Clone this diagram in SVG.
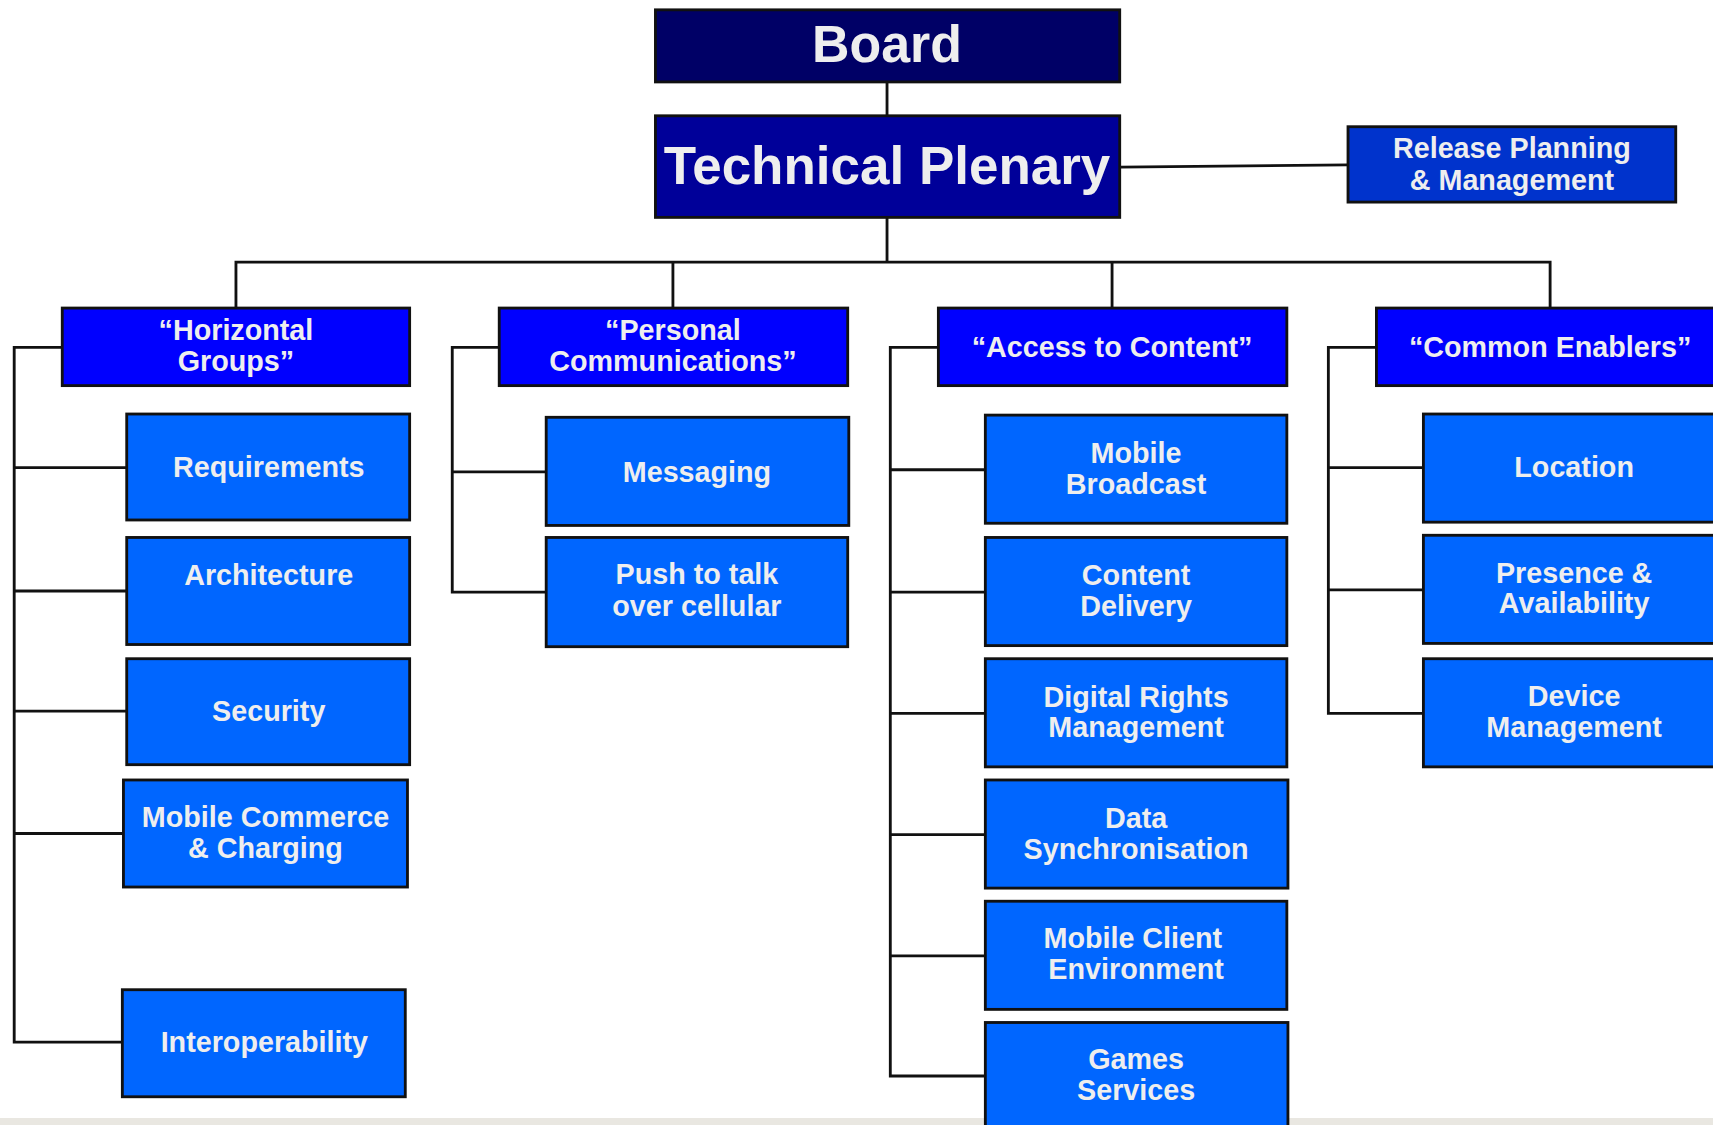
<svg xmlns="http://www.w3.org/2000/svg" width="1713" height="1125" viewBox="0 0 1713 1125">
<style>
  .box { stroke: #111; stroke-width: 2.6; }
  .board { fill: #000066; }
  .plen { fill: #000099; }
  .rel { fill: #0033cc; }
  .hdr { fill: #0000ff; }
  .kid { fill: #0066ff; }
  text { font-family: "Liberation Sans", Arial, sans-serif; font-weight: bold; fill: #eeeeee; text-anchor: middle; }
  .t26 { font-size: 26.3px; }
  .conn { fill: none; stroke: #111; stroke-width: 2.6; }
</style>
<rect x="0" y="0" width="1713" height="1125" fill="#ffffff"/>
<rect x="0" y="1118" width="1713" height="7" fill="#e9e7e1"/>
<g transform="scale(1.0924)">
  <g id="connectors" class="conn">
    <path d="M812 75 V106"/>
    <path d="M812 199 V240"/>
    <path d="M1025 153 L1234 151"/>
    <path d="M216 282 V240 H1419 V282"/>
    <path d="M616 240 V282"/>
    <path d="M1018 240 V282"/>
    <path d="M57 318 H13 V954 H113"/>
    <path d="M13 428 H116"/>
    <path d="M13 541 H116"/>
    <path d="M13 651 H116"/>
    <path d="M13 763 H113"/>
    <path d="M457 318 H414 V542 H500"/>
    <path d="M414 432 H500"/>
    <path d="M859 318 H815 V985 H902"/>
    <path d="M815 430 H902"/>
    <path d="M815 542 H902"/>
    <path d="M815 653 H902"/>
    <path d="M815 764 H902"/>
    <path d="M815 875 H902"/>
    <path d="M1260 318 H1216 V653 H1303"/>
    <path d="M1216 428 H1303"/>
    <path d="M1216 540 H1303"/>
  </g>

  <g id="board"><rect class="box board" x="600" y="9" width="425" height="66"/><text x="812" y="57" style="font-size:47.5px">Board</text></g>
  <g id="technical-plenary"><rect class="box plen" x="600" y="106" width="425" height="93"/><text x="812" y="168.5" style="font-size:48.5px">Technical Plenary</text></g>
  <g id="release-planning"><rect class="box rel" x="1234" y="116" width="300" height="69"/><text class="t26" x="1384" y="145">Release Planning</text><text class="t26" x="1384" y="173.5">&amp; Management</text></g>

  <g id="horizontal-groups"><rect class="box hdr" x="57" y="282" width="318" height="71"/><text class="t26" x="216" y="311">“Horizontal</text><text class="t26" x="216" y="339.5">Groups”</text></g>
  <g id="personal-communications"><rect class="box hdr" x="457" y="282" width="319" height="71"/><text class="t26" x="616" y="311">“Personal</text><text class="t26" x="616" y="339.5">Communications”</text></g>
  <g id="access-to-content"><rect class="box hdr" x="859" y="282" width="319" height="71"/><text class="t26" x="1018" y="327">“Access to Content”</text></g>
  <g id="common-enablers"><rect class="box hdr" x="1260" y="282" width="330" height="71"/><text class="t26" x="1419" y="327">“Common Enablers”</text></g>

  <g id="requirements"><rect class="box kid" x="116" y="379" width="259" height="97"/><text class="t26" x="246" y="436.5">Requirements</text></g>
  <g id="architecture"><rect class="box kid" x="116" y="492" width="259" height="98"/><text class="t26" x="246" y="535.5">Architecture</text></g>
  <g id="security"><rect class="box kid" x="116" y="603" width="259" height="97"/><text class="t26" x="246" y="660">Security</text></g>
  <g id="mobile-commerce"><rect class="box kid" x="113" y="714" width="260" height="98"/><text class="t26" x="243" y="757">Mobile Commerce</text><text class="t26" x="243" y="785.5">&amp; Charging</text></g>
  <g id="interoperability"><rect class="box kid" x="112" y="906" width="259" height="98"/><text class="t26" x="242" y="963">Interoperability</text></g>

  <g id="messaging"><rect class="box kid" x="500" y="382" width="277" height="99"/><text class="t26" x="638" y="441">Messaging</text></g>
  <g id="push-to-talk"><rect class="box kid" x="500" y="492" width="276" height="100"/><text class="t26" x="638" y="535">Push to talk</text><text class="t26" x="638" y="564">over cellular</text></g>

  <g id="mobile-broadcast"><rect class="box kid" x="902" y="380" width="276" height="99"/><text class="t26" x="1040" y="423.5">Mobile</text><text class="t26" x="1040" y="452.5">Broadcast</text></g>
  <g id="content-delivery"><rect class="box kid" x="902" y="492" width="276" height="99"/><text class="t26" x="1040" y="535.5">Content</text><text class="t26" x="1040" y="563.5">Delivery</text></g>
  <g id="digital-rights"><rect class="box kid" x="902" y="603" width="276" height="99"/><text class="t26" x="1040" y="647">Digital Rights</text><text class="t26" x="1040" y="675">Management</text></g>
  <g id="data-sync"><rect class="box kid" x="902" y="714" width="277" height="99"/><text class="t26" x="1040" y="758">Data</text><text class="t26" x="1040" y="786">Synchronisation</text></g>
  <g id="mobile-client"><rect class="box kid" x="902" y="825" width="276" height="99"/><text class="t26" x="1037" y="868">Mobile Client</text><text class="t26" x="1040" y="896.5">Environment</text></g>
  <g id="games-services"><rect class="box kid" x="902" y="936" width="277" height="110"/><text class="t26" x="1040" y="979">Games</text><text class="t26" x="1040" y="1007">Services</text></g>

  <g id="location"><rect class="box kid" x="1303" y="379" width="290" height="99"/><text class="t26" x="1441" y="436.5">Location</text></g>
  <g id="presence"><rect class="box kid" x="1303" y="490" width="290" height="99"/><text class="t26" x="1441" y="533.5">Presence &amp;</text><text class="t26" x="1441" y="561.5">Availability</text></g>
  <g id="device-management"><rect class="box kid" x="1303" y="603" width="290" height="99"/><text class="t26" x="1441" y="646.5">Device</text><text class="t26" x="1441" y="675">Management</text></g>
</g>
</svg>
